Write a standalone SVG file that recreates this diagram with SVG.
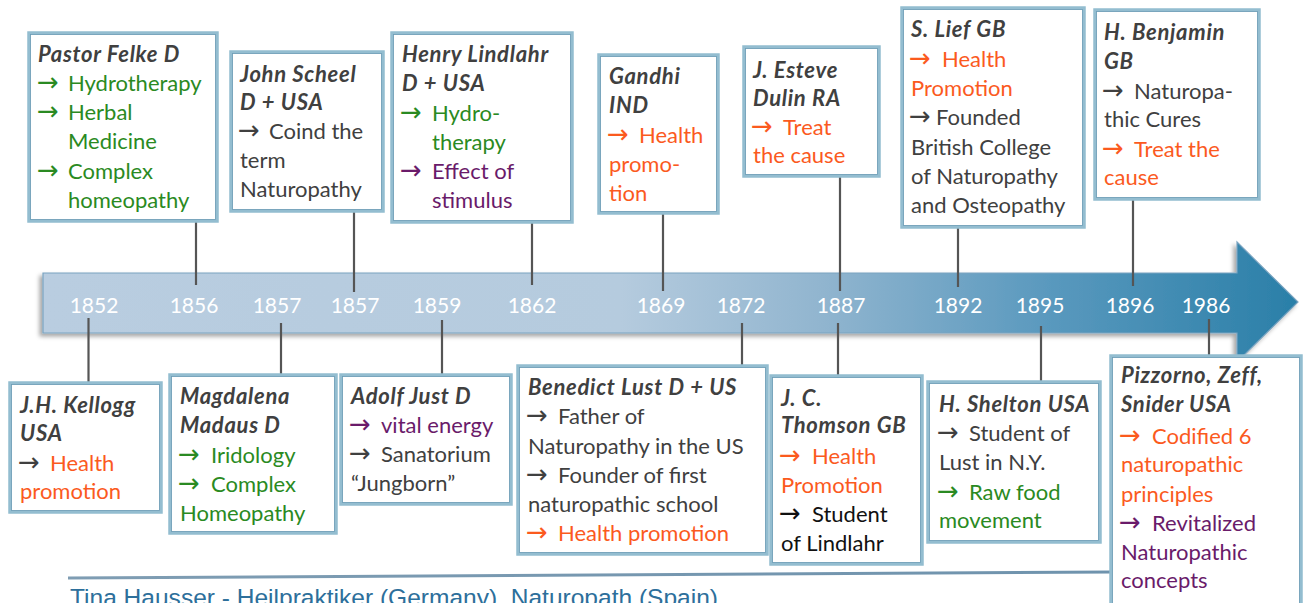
<svg xmlns="http://www.w3.org/2000/svg" width="1307" height="603" viewBox="0 0 1307 603">
<defs>
<linearGradient id="shaft" gradientUnits="userSpaceOnUse" x1="43" y1="0" x2="1298" y2="0">
<stop offset="0" stop-color="#b9cde0"/>
<stop offset="0.46" stop-color="#b5cbde"/>
<stop offset="0.62" stop-color="#91b5cf"/>
<stop offset="0.8" stop-color="#5a99be"/>
<stop offset="1" stop-color="#2a7fa8"/>
</linearGradient>
<linearGradient id="foot" x1="0" y1="0" x2="1" y2="0">
<stop offset="0" stop-color="#7f9db3"/>
<stop offset="1" stop-color="#6f93ad"/>
</linearGradient>
<filter id="sh" x="-5%" y="-20%" width="110%" height="140%">
<feDropShadow dx="-3" dy="3" stdDeviation="2" flood-color="#000" flood-opacity="0.35"/>
</filter>
<style>
.box{fill:#fff;stroke:#93bdd0;stroke-width:3.5}
.inner{fill:none;stroke:#6e9db6;stroke-width:0.8}
.conn line{stroke:#555;stroke-width:2.2}
text{font-family:Lato,"Liberation Sans",sans-serif;font-size:22px}
.t{font-weight:bold;font-style:italic;fill:#404040;letter-spacing:0.7px}
.ar{font-family:"DejaVu Sans",sans-serif;font-size:26px}
.k{fill:#404040}
.g{fill:#2a8a22}
.o{fill:#fb5a1e}
.p{fill:#6a1b6a}
.b{fill:#111}
.yr{fill:#fff;font-size:21px;text-anchor:middle}
</style>
</defs>
<rect width="1307" height="603" fill="#fff"/>

<g id="timeline">
<path d="M43 273 H1237 V242 L1298 302 L1237 362 V333 H43 Z" fill="url(#shaft)" stroke="#7aa3c0" stroke-width="1.2" filter="url(#sh)"/>
<text class="yr" x="94" y="313">1852</text>
<text class="yr" x="194" y="313">1856</text>
<text class="yr" x="277" y="313">1857</text>
<text class="yr" x="355" y="313">1857</text>
<text class="yr" x="437" y="313">1859</text>
<text class="yr" x="532" y="313">1862</text>
<text class="yr" x="661" y="313">1869</text>
<text class="yr" x="741" y="313">1872</text>
<text class="yr" x="841" y="313">1887</text>
<text class="yr" x="958" y="313">1892</text>
<text class="yr" x="1040" y="313">1895</text>
<text class="yr" x="1130" y="313">1896</text>
<text class="yr" x="1206" y="313">1986</text>
</g>

<g id="footer">
<line x1="68" y1="578" x2="1112" y2="572" stroke="url(#foot)" stroke-width="3"/>
<text x="70" y="606" fill="#2d6f9b" style="font-family:'Liberation Sans',Arial,sans-serif;font-size:24.5px" textLength="648" lengthAdjust="spacingAndGlyphs">Tina Hausser - Heilpraktiker (Germany), Naturopath (Spain)</text>
</g>

<g class="conn" id="connectors">
<line x1="196" y1="221" x2="196" y2="285"/>
<line x1="354" y1="211" x2="354" y2="292"/>
<line x1="532" y1="222" x2="532" y2="285"/>
<line x1="663" y1="213" x2="663" y2="291"/>
<line x1="840" y1="176" x2="840" y2="291"/>
<line x1="958" y1="227" x2="958" y2="287"/>
<line x1="1133" y1="199" x2="1133" y2="286"/>
<line x1="88.5" y1="318" x2="88.5" y2="383"/>
<line x1="281" y1="323" x2="281" y2="375"/>
<line x1="442" y1="320" x2="442" y2="375"/>
<line x1="742" y1="323" x2="742" y2="366"/>
<line x1="838" y1="323" x2="838" y2="376"/>
<line x1="1041" y1="326" x2="1041" y2="382"/>
<line x1="1209" y1="319" x2="1209" y2="356"/>
</g>

<g id="felke">
<rect class="box" x="29" y="33" width="188" height="188"/>
<rect class="inner" x="30.5" y="34.5" width="185" height="185"/>
<text class="t" x="38" y="62">Pastor Felke D</text>
<text class="g" y="91"><tspan class="ar" x="37">→ </tspan><tspan x="68">Hydrotherapy</tspan></text>
<text class="g" y="120"><tspan class="ar" x="37">→ </tspan><tspan x="68">Herbal</tspan></text>
<text class="g" x="68" y="149">Medicine</text>
<text class="g" y="179"><tspan class="ar" x="37">→ </tspan><tspan x="68">Complex</tspan></text>
<text class="g" x="68" y="208">homeopathy</text>
</g>

<g id="scheel">
<rect class="box" x="231" y="52" width="152" height="159"/>
<rect class="inner" x="232.5" y="53.5" width="149" height="156"/>
<text class="t" x="240" y="82">John Scheel</text>
<text class="t" x="240" y="110">D + USA</text>
<text class="k" y="139"><tspan class="ar" x="238">→ </tspan><tspan x="269">Coind the</tspan></text>
<text class="k" x="240" y="168">term</text>
<text class="k" x="240" y="197">Naturopathy</text>
</g>

<g id="lindlahr">
<rect class="box" x="392" y="33" width="180" height="189"/>
<rect class="inner" x="393.5" y="34.5" width="177" height="186"/>
<text class="t" x="402" y="62">Henry Lindlahr</text>
<text class="t" x="402" y="91">D + USA</text>
<text class="g" y="121"><tspan class="ar" x="400">→ </tspan><tspan x="432">Hydro-</tspan></text>
<text class="g" x="432" y="150">therapy</text>
<text class="p" y="179"><tspan class="ar" x="400">→ </tspan><tspan x="432">Effect of</tspan></text>
<text class="p" x="432" y="208">stimulus</text>
</g>

<g id="gandhi">
<rect class="box" x="599" y="55" width="119" height="158"/>
<rect class="inner" x="600.5" y="56.5" width="116" height="155"/>
<text class="t" x="609" y="84">Gandhi</text>
<text class="t" x="609" y="113">IND</text>
<text class="o" y="143"><tspan class="ar" x="607">→ </tspan><tspan x="639">Health</tspan></text>
<text class="o" x="609" y="172">promo-</text>
<text class="o" x="609" y="201">tion</text>
</g>

<g id="esteve">
<rect class="box" x="744" y="47" width="135" height="129"/>
<rect class="inner" x="745.5" y="48.5" width="132" height="126"/>
<text class="t" x="753" y="78">J. Esteve</text>
<text class="t" x="753" y="106">Dulin RA</text>
<text class="o" y="135"><tspan class="ar" x="751">→ </tspan><tspan x="783">Treat</tspan></text>
<text class="o" x="753" y="163">the cause</text>
</g>

<g id="lief">
<rect class="box" x="902" y="8" width="182" height="219"/>
<rect class="inner" x="903.5" y="9.5" width="179" height="216"/>
<text class="t" x="911" y="37">S. Lief GB</text>
<text class="o" y="67"><tspan class="ar" x="909">→ </tspan><tspan x="942">Health</tspan></text>
<text class="o" x="911" y="96">Promotion</text>
<text class="k" y="125"><tspan class="ar" x="909">→</tspan><tspan x="936">Founded</tspan></text>
<text class="k" x="911" y="155">British College</text>
<text class="k" x="911" y="184">of Naturopathy</text>
<text class="k" x="911" y="213">and Osteopathy</text>
</g>

<g id="benjamin">
<rect class="box" x="1095" y="10" width="164" height="189"/>
<rect class="inner" x="1096.5" y="11.5" width="161" height="186"/>
<text class="t" x="1104" y="40">H. Benjamin</text>
<text class="t" x="1104" y="69">GB</text>
<text class="k" y="99"><tspan class="ar" x="1102">→ </tspan><tspan x="1134">Naturopa-</tspan></text>
<text class="k" x="1104" y="127">thic Cures</text>
<text class="o" y="157"><tspan class="ar" x="1102">→ </tspan><tspan x="1134">Treat the</tspan></text>
<text class="o" x="1104" y="185">cause</text>
</g>

<g id="kellogg">
<rect class="box" x="10" y="383" width="151" height="129"/>
<rect class="inner" x="11.5" y="384.5" width="148" height="126"/>
<text class="t" x="20" y="413">J.H. Kellogg</text>
<text class="t" x="20" y="441">USA</text>
<text y="471"><tspan class="ar k" x="18">→ </tspan><tspan class="o" x="50">Health</tspan></text>
<text class="o" x="20" y="499">promotion</text>
</g>

<g id="madaus">
<rect class="box" x="170" y="375" width="166" height="158"/>
<rect class="inner" x="171.5" y="376.5" width="163" height="155"/>
<text class="t" x="180" y="404">Magdalena</text>
<text class="t" x="180" y="433">Madaus D</text>
<text class="g" y="463"><tspan class="ar" x="178">→ </tspan><tspan x="211">Iridology</tspan></text>
<text class="g" y="492"><tspan class="ar" x="178">→ </tspan><tspan x="211">Complex</tspan></text>
<text class="g" x="180" y="521">Homeopathy</text>
</g>

<g id="just">
<rect class="box" x="341" y="375" width="170" height="129"/>
<rect class="inner" x="342.5" y="376.5" width="167" height="126"/>
<text class="t" x="351" y="404">Adolf Just D</text>
<text class="p" y="433"><tspan class="ar" x="349">→ </tspan><tspan x="381">vital energy</tspan></text>
<text class="k" y="462"><tspan class="ar" x="349">→ </tspan><tspan x="381">Sanatorium</tspan></text>
<text class="k" x="351" y="491">“Jungborn”</text>
</g>

<g id="lust">
<rect class="box" x="518" y="366" width="249" height="188"/>
<rect class="inner" x="519.5" y="367.5" width="246" height="185"/>
<text class="t" x="528" y="395">Benedict Lust D + US</text>
<text class="k" y="424"><tspan class="ar" x="526">→ </tspan><tspan x="558">Father of</tspan></text>
<text class="k" x="528" y="454">Naturopathy in the US</text>
<text class="k" y="483"><tspan class="ar" x="526">→ </tspan><tspan x="558">Founder of first</tspan></text>
<text class="k" x="528" y="512">naturopathic school</text>
<text class="o" y="541"><tspan class="ar" x="526">→ </tspan><tspan x="558">Health promotion</tspan></text>
</g>

<g id="thomson">
<rect class="box" x="771" y="376" width="151" height="188"/>
<rect class="inner" x="772.5" y="377.5" width="148" height="185"/>
<text class="t" x="781" y="406">J. C.</text>
<text class="t" x="781" y="433">Thomson GB</text>
<text class="o" y="464"><tspan class="ar" x="779">→ </tspan><tspan x="812">Health</tspan></text>
<text class="o" x="781" y="493">Promotion</text>
<text class="b" y="522"><tspan class="ar" x="779">→ </tspan><tspan x="812">Student</tspan></text>
<text class="b" x="781" y="551">of Lindlahr</text>
</g>

<g id="shelton">
<rect class="box" x="928" y="382" width="172" height="160"/>
<rect class="inner" x="929.5" y="383.5" width="169" height="157"/>
<text class="t" x="939" y="412">H. Shelton USA</text>
<text class="k" y="441"><tspan class="ar" x="937">→ </tspan><tspan x="969">Student of</tspan></text>
<text class="k" x="939" y="470">Lust in N.Y.</text>
<text class="g" y="500"><tspan class="ar" x="937">→ </tspan><tspan x="969">Raw food</tspan></text>
<text class="g" x="939" y="528">movement</text>
</g>

<g id="pizzorno">
<rect class="box" x="1111" y="356" width="190" height="260"/>
<rect class="inner" x="1112.5" y="357.5" width="187" height="257"/>
<text class="t" x="1121" y="383">Pizzorno, Zeff,</text>
<text class="t" x="1121" y="412">Snider USA</text>
<text class="o" y="444"><tspan class="ar" x="1119">→ </tspan><tspan x="1152">Codified 6</tspan></text>
<text class="o" x="1121" y="472">naturopathic</text>
<text class="o" x="1121" y="502">principles</text>
<text class="p" y="531"><tspan class="ar" x="1119">→ </tspan><tspan x="1152">Revitalized</tspan></text>
<text class="p" x="1121" y="560">Naturopathic</text>
<text class="p" x="1121" y="588">concepts</text>
</g>
</svg>
